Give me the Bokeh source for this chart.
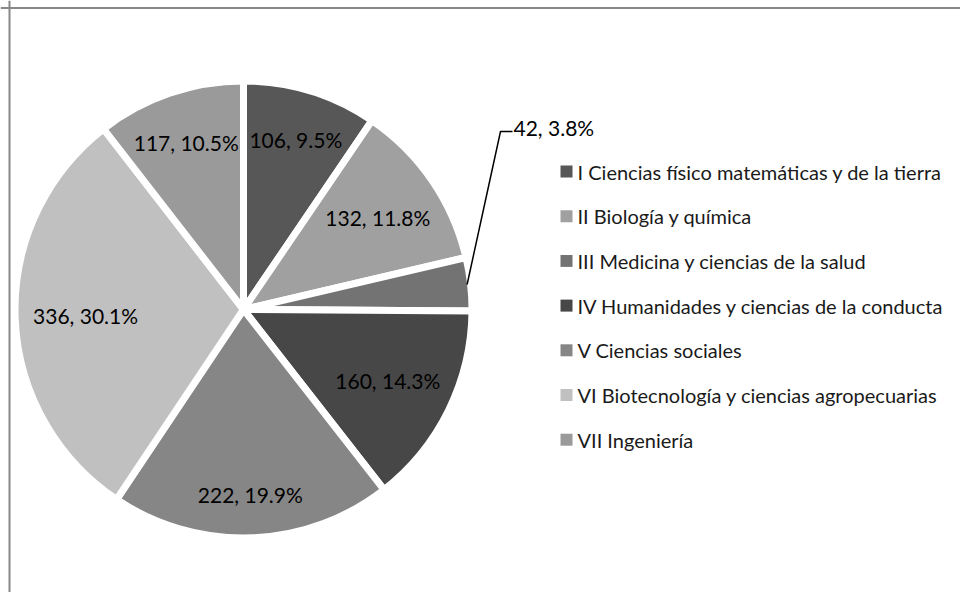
import math
from bokeh.plotting import figure
from bokeh.models import ColumnDataSource, Range1d, Span
from bokeh.core.properties import value
from bokeh.embed import file_html
from bokeh.resources import INLINE

# ---------------- data ----------------
categories = [
    "I Ciencias físico matemáticas  y de la tierra",
    "II Biología y química",
    "III Medicina y ciencias de la salud",
    "IV Humanidades y ciencias de la conducta",
    "V Ciencias sociales",
    "VI Biotecnología y ciencias agropecuarias",
    "VII Ingeniería",
]
counts = [106, 132, 42, 160, 222, 336, 117]
percents = [9.5, 11.8, 3.8, 14.3, 19.9, 30.1, 10.5]
colors = ["#575757", "#a0a0a0", "#737373", "#474747", "#868686", "#c0c0c0", "#9a9a9a"]

# ---------------- layout (pixel-like coordinates) ----------------
W, H = 960, 592
CX, CY = 243, 283          # pie centre
R_VIS = 225                # visible radius
GAP = 7                    # white separation between slices
R = R_VIS + GAP / 2
FONT = "Lato"
LABEL_SIZE = 21
LEGEND_SIZE = 20

total = sum(counts)
starts, ends, mids = [], [], []
acc = 0.0
for c in counts:
    a0 = math.pi / 2 - 2 * math.pi * acc / total
    acc += c
    a1 = math.pi / 2 - 2 * math.pi * acc / total
    starts.append(a1)
    ends.append(a0)
    mids.append((a0 + a1) / 2)

src = ColumnDataSource(dict(start=starts, end=ends, color=colors, cat=categories))

p = figure(width=W, height=H, x_range=Range1d(0, W), y_range=Range1d(0, H),
           min_border=0, output_backend="svg", toolbar_location=None,
           x_axis_location=None, y_axis_location=None,
           outline_line_color=None, background_fill_color="white",
           border_fill_color="white")
p.grid.visible = False

p.wedge(x=CX, y=CY, radius=R, start_angle="start", end_angle="end",
        fill_color="color", line_color="white", line_width=GAP, source=src)

# ---------------- data labels ----------------
in_x, in_y, in_t = [], [], []
out_x, out_y, out_t = [], [], []
lead_x, lead_y = [], []
for c, pc, m in zip(counts, percents, mids):
    txt = f"{c}, {pc}%"
    if pc < 5:
        # outside label with leader line
        px = CX + R_VIS * math.cos(m)
        py = CY + R_VIS * math.sin(m)
        ex, ey = CX + 257, CY + 178
        lead_x += [px, ex, ex + 12]
        lead_y += [py, ey, ey]
        out_x.append(ex + 13)
        out_y.append(ey + 4)
        out_t.append(txt)
    else:
        r = R_VIS - 39 - 28 * abs(math.cos(m))
        in_x.append(CX + r * math.cos(m))
        in_y.append(CY + r * math.sin(m))
        in_t.append(txt)

p.text(x=in_x, y=in_y, text=in_t, text_align="center", text_baseline="middle",
       text_font=value(FONT), text_font_size=f"{LABEL_SIZE}px", text_color="#000000")
p.line(x=lead_x, y=lead_y, line_color="#000000", line_width=1.5)
p.text(x=out_x, y=out_y, text=out_t, text_align="left", text_baseline="middle",
       text_font=value(FONT), text_font_size=f"{LABEL_SIZE}px", text_color="#000000")

# ---------------- legend ----------------
LEG_X, LEG_TOP, LEG_STEP = 566, 421, 44.7
lx = [LEG_X] * len(categories)
ly = [LEG_TOP - i * LEG_STEP for i in range(len(categories))]
p.scatter(x=lx, y=ly, marker="square", size=12, fill_color=colors, line_color=None)
p.text(x=[LEG_X + 11] * len(categories), y=ly, text=categories, text_align="left",
       text_baseline="middle", text_font=value(FONT),
       text_font_size=f"{LEGEND_SIZE}px", text_color="#1a1a1a")

# ---------------- chart frame ----------------
p.add_layout(Span(location=H - 7.5, dimension="width", line_color="#888888", line_width=2))
p.add_layout(Span(location=9, dimension="height", line_color="#888888", line_width=2))

open("out.html", "w").write(file_html(p, INLINE))
